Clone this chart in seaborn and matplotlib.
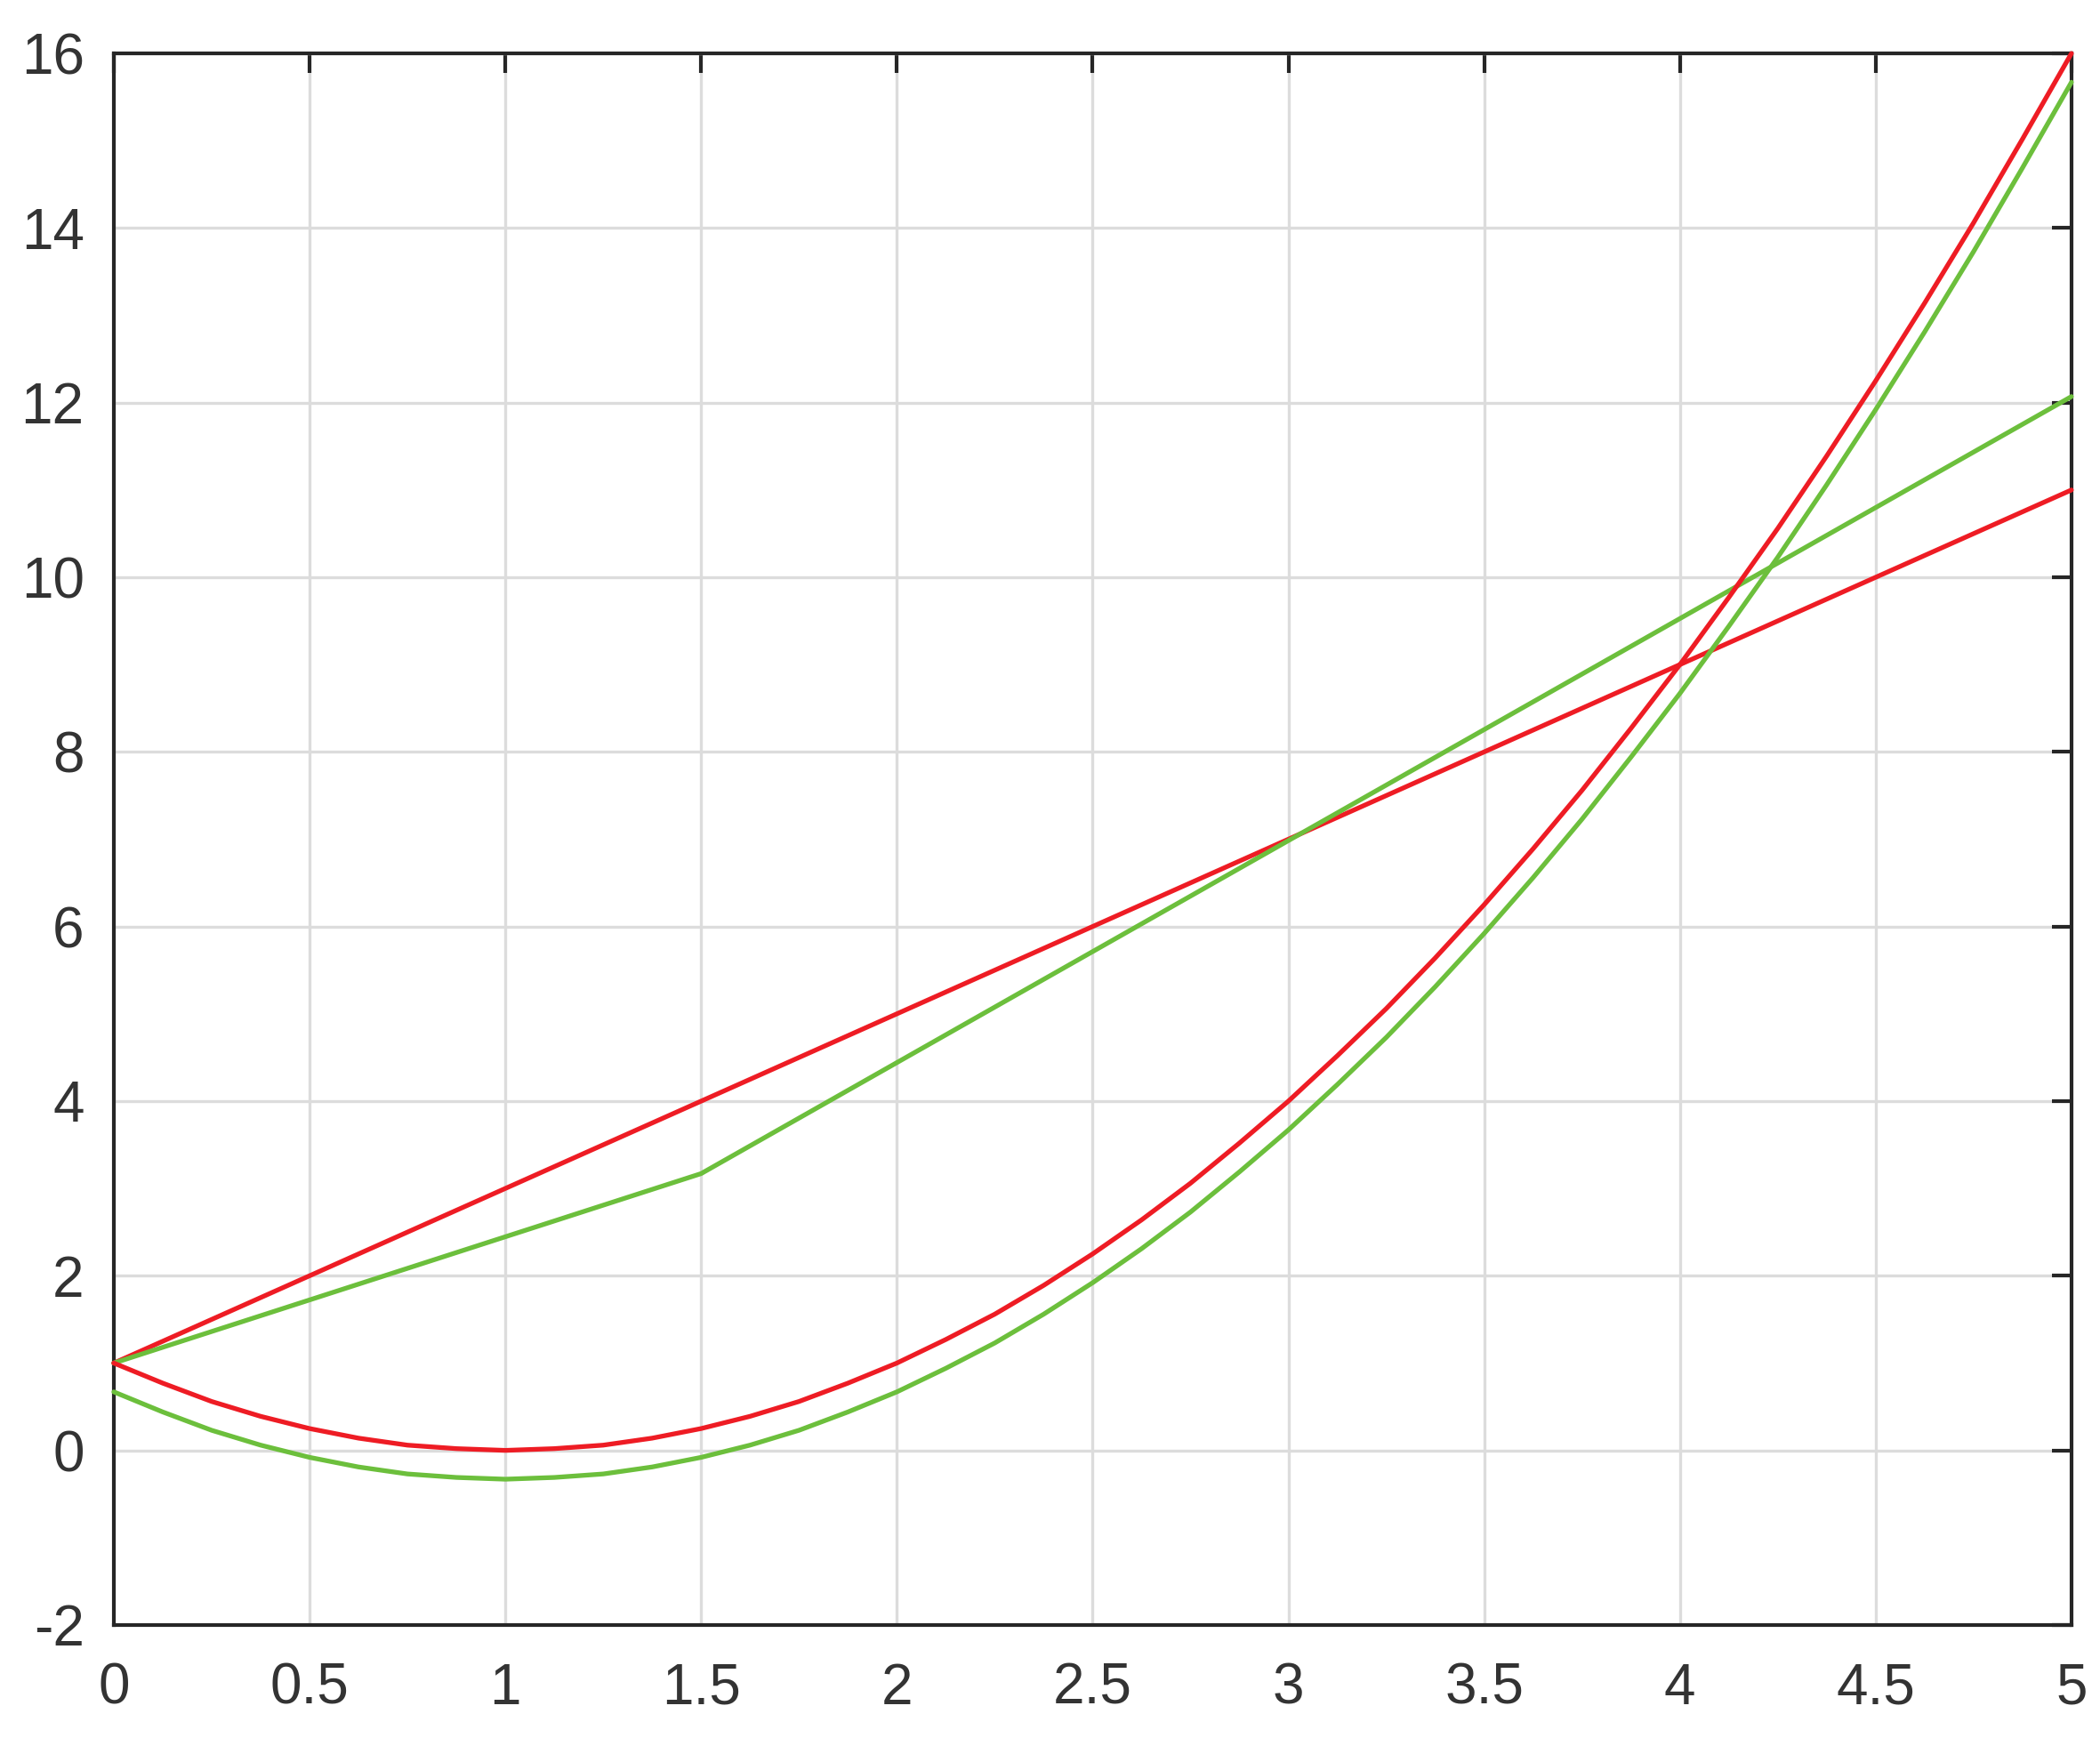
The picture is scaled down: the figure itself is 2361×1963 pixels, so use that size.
import numpy as np
import pandas as pd
import seaborn as sns
from matplotlib import pyplot as plt
from matplotlib.ticker import FuncFormatter

FIG_SIZE = (23.61, 19.63)

# values
x_curve = [0, 0.125, 0.25, 0.375, 0.5, 0.625, 0.75, 0.875, 1, 1.125, 1.25, 1.375,
           1.5, 1.625, 1.75, 1.875, 2, 2.125, 2.25, 2.375, 2.5, 2.625, 2.75, 2.875,
           3, 3.125, 3.25, 3.375, 3.5, 3.625, 3.75, 3.875, 4, 4.125, 4.25, 4.375,
           4.5, 4.625, 4.75, 4.875, 5]
red_curve = [1, 0.77, 0.56, 0.39, 0.25, 0.14, 0.06, 0.02, 0, 0.02, 0.06, 0.14,
             0.25, 0.39, 0.56, 0.77, 1, 1.27, 1.56, 1.89, 2.25, 2.64, 3.06, 3.52,
             4, 4.52, 5.06, 5.64, 6.25, 6.89, 7.56, 8.27, 9, 9.77, 10.56, 11.39,
             12.25, 13.14, 14.06, 15.02, 16]
green_curve = [0.67, 0.44, 0.23, 0.06, -0.08, -0.19, -0.27, -0.31, -0.33, -0.31, -0.27, -0.19,
               -0.08, 0.06, 0.23, 0.44, 0.67, 0.94, 1.23, 1.56, 1.92, 2.31, 2.73, 3.19,
               3.67, 4.19, 4.73, 5.31, 5.92, 6.56, 7.23, 7.94, 8.67, 9.44, 10.23, 11.06,
               11.92, 12.81, 13.73, 14.69, 15.67]
x_red_line = [0, 5]
red_line = [1, 11]
x_green_line = [0, 1.5, 5]
green_line = [1, 3.17, 12.07]

x_ticks = [0, 0.5, 1, 1.5, 2, 2.5, 3, 3.5, 4, 4.5, 5]
y_ticks = [-2, 0, 2, 4, 6, 8, 10, 12, 14, 16]

RED = "#ee1c24"
GREEN = "#6cbf3c"

sns.set_theme(style="white")
plt.rcParams['font.family'] = ['Liberation Sans', 'DejaVu Sans']
plt.rcParams['axes.unicode_minus'] = False

fig = plt.figure(figsize=FIG_SIZE, dpi=100)
ax = fig.add_axes([0.0542, 0.0693, 0.9322, 0.9001])

series = [
    (x_red_line, red_line, RED),
    (x_green_line, green_line, GREEN),
    (x_curve, red_curve, RED),
    (x_curve, green_curve, GREEN),
]
for xs, ys, color in series:
    sns.lineplot(x=xs, y=ys, ax=ax, color=color, linewidth=3.8, sort=False,
                 estimator=None, clip_on=False, zorder=3)

ax.set_xlim(0, 5)
ax.set_ylim(-2, 16)
ax.set_xticks(x_ticks)
ax.set_yticks(y_ticks)
ax.xaxis.set_major_formatter(FuncFormatter(lambda v, p: "{:g}".format(v)))
ax.yaxis.set_major_formatter(FuncFormatter(lambda v, p: "{:g}".format(v)))

ax.grid(True, color="#dcdcdc", linewidth=2.4, zorder=0)
ax.set_axisbelow(True)
for spine in ax.spines.values():
    spine.set_visible(True)
    spine.set_color("#262626")
    spine.set_linewidth(3)
ax.tick_params(axis="both", direction="in", length=16, width=3, color="#262626",
               labelsize=46, labelcolor="#333333", top=True, right=True)
ax.tick_params(axis="x", pad=30)
ax.tick_params(axis="y", pad=24)

fig.savefig("out.png", dpi=100)
